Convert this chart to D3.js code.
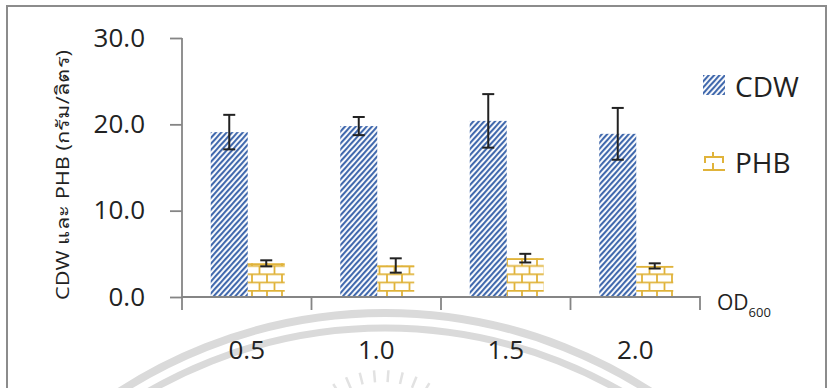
<!DOCTYPE html>
<html>
<head>
<meta charset="utf-8">
<script src="https://cdn.jsdelivr.net/npm/d3@7"></script>
<style>
  body { margin: 0; background: #fff; }
  text { font-family: "Open Sans", "Noto Sans", sans-serif; fill: #222; }
</style>
</head>
<body>
<svg id="chart" width="833" height="388"></svg>
<script>
var categories = ["0.5", "1.0", "1.5", "2.0"];
var series = ["CDW", "PHB"];
var cdw = [19.1, 19.8, 20.4, 18.9];
var cdwErr = [2.0, 1.05, 3.1, 3.0];
var phb = [3.9, 3.65, 4.5, 3.6];
var phbErr = [0.35, 0.83, 0.5, 0.3];
var yTicks = [0, 10, 20, 30];

var svg = d3.select("#chart");
var blue = "#4169ad", gold = "#e0b33a", axisCol = "#858585";

// patterns
var defs = svg.append("defs");
defs.append("pattern")
    .attr("id", "hatch")
    .attr("patternUnits", "userSpaceOnUse")
    .attr("width", 4).attr("height", 10)
    .attr("patternTransform", "rotate(42)")
  .append("rect")
    .attr("x", 0).attr("y", 0).attr("width", 2.1).attr("height", 10)
    .attr("fill", blue);

var brick = defs.append("pattern")
    .attr("id", "brick")
    .attr("patternUnits", "userSpaceOnUse")
    .attr("x", 248).attr("y", 290)
    .attr("width", 15).attr("height", 16.6);
brick.append("path")
    .attr("d", "M0,0.8H15M0,9.1H15M4,0.8V9.1M11.5,9.1V16.6")
    .attr("stroke", gold).attr("stroke-width", 1.8).attr("fill", "none");

// watermark
var wm = svg.append("g").attr("stroke", "#dadada").attr("fill", "none");
wm.append("circle").attr("cx", 385).attr("cy", 800).attr("r", 487).attr("stroke-width", 8);
wm.append("circle").attr("cx", 385).attr("cy", 800).attr("r", 472).attr("stroke-width", 7);
d3.range(-122, -57, 9).forEach(function(a) {
  var r = a * Math.PI / 180;
  wm.append("line")
    .attr("x1", 382 + 80 * Math.cos(r)).attr("y1", 462 + 80 * Math.sin(r))
    .attr("x2", 382 + 92 * Math.cos(r)).attr("y2", 462 + 92 * Math.sin(r))
    .attr("stroke-width", 2.5).attr("stroke", "#e2e2e2");
});

// border
svg.append("rect").attr("x", 7).attr("y", 6).attr("width", 819).attr("height", 420)
   .attr("fill", "none").attr("stroke", "#8c8c8c").attr("stroke-width", 2);

var x0 = d3.scaleBand().domain(categories).range([182, 700]).padding(0);
var x1 = d3.scaleBand().domain(series).range([0, 74]);
var y = d3.scaleLinear().domain([0, 30]).range([297, 38]);
var off = (x0.bandwidth() - 74) / 2 + 1;

var rows = categories.map(function(c, i) {
  return [
    {cat: c, s: "CDW", v: cdw[i], e: cdwErr[i]},
    {cat: c, s: "PHB", v: phb[i], e: phbErr[i]}
  ];
});
var flat = [].concat.apply([], rows);

// bars
svg.selectAll(".bar").data(flat).enter().append("rect")
  .attr("class", "bar")
  .attr("x", function(d) { return x0(d.cat) + off + x1(d.s); })
  .attr("y", function(d) { return y(d.v); })
  .attr("width", x1.bandwidth())
  .attr("height", function(d) { return y(0) - y(d.v); })
  .attr("fill", function(d) { return d.s == "CDW" ? "url(#hatch)" : "url(#brick)"; });

svg.selectAll(".top").data(flat.filter(function(d) { return d.s == "PHB"; })).enter().append("line")
  .attr("x1", function(d) { return x0(d.cat) + off + x1(d.s); })
  .attr("x2", function(d) { return x0(d.cat) + off + x1(d.s) + x1.bandwidth(); })
  .attr("y1", function(d) { return y(d.v) + 0.9; })
  .attr("y2", function(d) { return y(d.v) + 0.9; })
  .attr("stroke", gold).attr("stroke-width", 1.8);

// error bars
var eb = svg.selectAll(".err").data(flat).enter().append("g").attr("class", "err")
  .attr("stroke", "#222").attr("stroke-width", 2);
function cx(d) { return x0(d.cat) + off + x1(d.s) + x1.bandwidth() / 2; }
eb.append("line").attr("x1", cx).attr("x2", cx)
  .attr("y1", function(d) { return y(d.v + d.e); })
  .attr("y2", function(d) { return y(d.v - d.e); });
eb.append("line").attr("x1", function(d) { return cx(d) - 6; }).attr("x2", function(d) { return cx(d) + 6; })
  .attr("y1", function(d) { return y(d.v + d.e); }).attr("y2", function(d) { return y(d.v + d.e); });
eb.append("line").attr("x1", function(d) { return cx(d) - 6; }).attr("x2", function(d) { return cx(d) + 6; })
  .attr("y1", function(d) { return y(d.v - d.e); }).attr("y2", function(d) { return y(d.v - d.e); });

// y axis
var yAxis = svg.append("g").attr("transform", "translate(182,0)")
  .call(d3.axisLeft(y).tickValues(yTicks).tickFormat(d3.format(".1f")).tickSize(12).tickPadding(25));
yAxis.select(".domain").attr("d", "M0,38V310");
yAxis.selectAll("line, .domain").attr("stroke", axisCol).attr("stroke-width", 1.8);
yAxis.selectAll("text").attr("font-size", 26).attr("fill", "#222")
  .attr("font-family", "'Open Sans', sans-serif");

// x axis
var xAxis = svg.append("g").attr("transform", "translate(0,297)")
  .call(d3.axisBottom(x0).tickSize(0).tickPadding(0));
xAxis.select(".domain").attr("d", "M182,0H700V13");
xAxis.selectAll(".domain").attr("stroke", axisCol).attr("stroke-width", 1.8);
xAxis.selectAll(".tick text").attr("font-size", 26).attr("fill", "#222")
  .attr("font-family", "'Open Sans', sans-serif").attr("y", 62).attr("dy", 0);
xAxis.selectAll(".bound").data(categories.slice(1)).enter().append("line")
  .attr("class", "bound")
  .attr("x1", function(d) { return x0(d); }).attr("x2", function(d) { return x0(d); })
  .attr("y1", 0).attr("y2", 13).attr("stroke", axisCol).attr("stroke-width", 1.8);

// x title
var od = svg.append("text").attr("x", 717).attr("y", 310).attr("font-size", 21);
od.append("tspan").text("OD");
od.append("tspan").attr("font-size", 13).attr("dy", 7).text("600");

// y title
svg.append("text")
  .attr("transform", "translate(69,175) rotate(-90)")
  .attr("text-anchor", "middle")
  .attr("font-size", 18)
  .attr("textLength", 250).attr("lengthAdjust", "spacingAndGlyphs")
  .attr("font-family", "'Noto Sans Thai', 'Noto Sans', 'DejaVu Sans', sans-serif")
  .text("CDW  และ PHB (กรัม/ลิตร)");

// legend
var leg = svg.append("g");
leg.append("rect").attr("x", 703).attr("y", 75).attr("width", 22).attr("height", 20).attr("fill", "url(#hatch)");
leg.append("text").attr("x", 735).attr("y", 97).attr("font-size", 28).text(series[0]);
leg.append("path")
  .attr("d", "M713,152V157M704,157H724M705,157V163M723,157V163M713,163V170M703,170H725")
  .attr("stroke", gold).attr("stroke-width", 2).attr("fill", "none");
leg.append("text").attr("x", 735).attr("y", 173).attr("font-size", 28).text(series[1]);
</script>
</body>
</html>
